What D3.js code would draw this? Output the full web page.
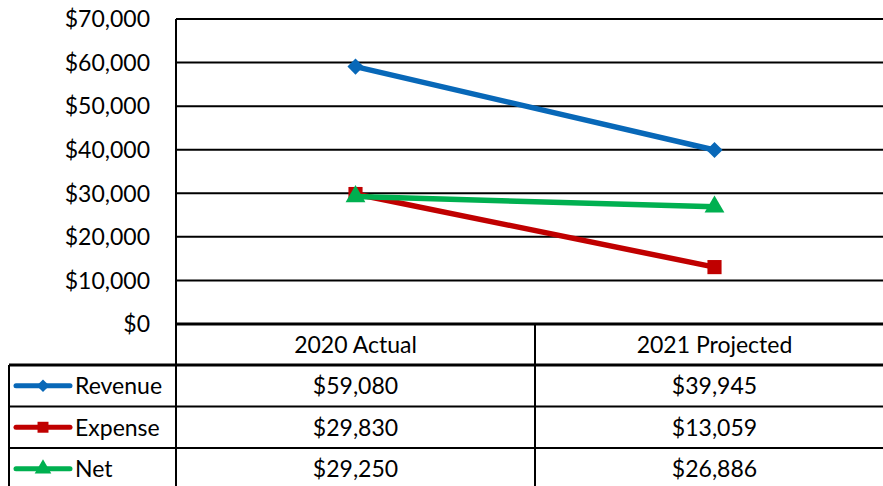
<!DOCTYPE html>
<html>
<head>
<meta charset="utf-8">
<script src="https://cdn.jsdelivr.net/npm/d3@7"></script>
<style>
  html, body { margin: 0; padding: 0; background: #fff; }
  svg { display: block; }
  text { font-family: Lato, "Open Sans", sans-serif; fill: #000; }
</style>
</head>
<body>
<div id="chart"></div>
<script>
// ---------- Data ----------
const categories = ["2020 Actual", "2021 Projected"];
const seriesNames = ["Revenue", "Expense", "Net"];
const revenue = [59080, 39945];
const expense = [29830, 13059];
const net = [29250, 26886];
const yTicks = [0, 10000, 20000, 30000, 40000, 50000, 60000, 70000];

const seriesValues = [revenue, expense, net];
const seriesColors = ["#0868B8", "#C00000", "#00B050"];
const seriesSymbols = [d3.symbolSquare, d3.symbolSquare, d3.symbolTriangle];
const seriesRotate = [45, 0, 0];

const width = 883, height = 486;
const plotLeft = 176, plotTop = 19, plotBottom = 324, plotRight = 894;
const tableLeft = 9, rowTop = 365, rowH = 41.5;
const fontSize = 23;

const svg = d3.select("#chart").append("svg")
  .attr("width", width)
  .attr("height", height);

const x = d3.scaleBand().domain(categories).range([plotLeft, plotRight]);
const y = d3.scaleLinear().domain([0, 70000]).range([plotBottom, plotTop]);
const rowY = d3.scaleBand().domain(seriesNames).range([rowTop, rowTop + rowH * seriesNames.length]);

const fmt = d3.format("$,");

// ---------- Gridlines + Y labels ----------
svg.append("g")
  .selectAll("line")
  .data(yTicks.filter(d => d > 0))
  .join("line")
  .attr("x1", plotLeft).attr("x2", width)
  .attr("y1", d => y(d)).attr("y2", d => y(d))
  .attr("stroke", "#000")
  .attr("stroke-width", 2);

svg.append("g")
  .selectAll("text")
  .data(yTicks)
  .join("text")
  .attr("x", 150)
  .attr("y", d => y(d))
  .attr("dy", "0.36em")
  .attr("text-anchor", "end")
  .attr("font-size", fontSize)
  .text(d => fmt(d));

// ---------- Table borders ----------
const borders = svg.append("g").attr("stroke", "#000");
// axis line
borders.append("line")
  .attr("x1", plotLeft).attr("x2", width)
  .attr("y1", y(0)).attr("y2", y(0))
  .attr("stroke-width", 3);
// plot left edge running down through table
borders.append("line")
  .attr("x1", plotLeft).attr("x2", plotLeft)
  .attr("y1", plotTop).attr("y2", height)
  .attr("stroke-width", 2);
// category divider
borders.append("line")
  .attr("x1", x(categories[1])).attr("x2", x(categories[1]))
  .attr("y1", y(0)).attr("y2", height)
  .attr("stroke-width", 2);
// table left edge
borders.append("line")
  .attr("x1", tableLeft).attr("x2", tableLeft)
  .attr("y1", rowTop).attr("y2", height)
  .attr("stroke-width", 2);
// row lines
borders.selectAll("line.row")
  .data(seriesNames)
  .join("line")
  .attr("class", "row")
  .attr("x1", tableLeft).attr("x2", width)
  .attr("y1", d => rowY(d)).attr("y2", d => rowY(d))
  .attr("stroke-width", (d, i) => i === 0 ? 3 : 2);

// ---------- Category header ----------
svg.append("g")
  .selectAll("text")
  .data(categories)
  .join("text")
  .attr("x", d => x(d) + x.bandwidth() / 2)
  .attr("y", (y(0) + rowTop) / 2)
  .attr("dy", "0.36em")
  .attr("text-anchor", "middle")
  .attr("font-size", fontSize)
  .text(d => d);

// ---------- Table rows ----------
const rows = svg.append("g")
  .selectAll("g")
  .data(seriesNames)
  .join("g")
  .attr("transform", d => `translate(0,${rowY(d) + rowY.bandwidth() / 2})`);

rows.append("line")
  .attr("x1", 16).attr("x2", 70)
  .attr("stroke", (d, i) => seriesColors[i])
  .attr("stroke-width", 5)
  .attr("stroke-linecap", "round");

rows.append("path")
  .attr("transform", (d, i) => `translate(43,0) rotate(${seriesRotate[i]})`)
  .attr("d", (d, i) => d3.symbol(seriesSymbols[i], i === 0 ? 80 : 120)())
  .attr("fill", (d, i) => seriesColors[i]);

rows.append("text")
  .attr("x", 75)
  .attr("dy", "0.36em")
  .attr("font-size", fontSize)
  .text(d => d);

rows.selectAll("text.val")
  .data((d, i) => seriesValues[i])
  .join("text")
  .attr("class", "val")
  .attr("x", (d, j) => x(categories[j]) + x.bandwidth() / 2)
  .attr("dy", "0.36em")
  .attr("text-anchor", "middle")
  .attr("font-size", fontSize)
  .text(d => fmt(d));

// ---------- Lines ----------
const line = d3.line()
  .x((d, j) => x(categories[j]) + x.bandwidth() / 2)
  .y(d => y(d));

const series = svg.append("g")
  .selectAll("g")
  .data(seriesNames)
  .join("g");

series.append("path")
  .attr("d", (d, i) => line(seriesValues[i]))
  .attr("fill", "none")
  .attr("stroke", (d, i) => seriesColors[i])
  .attr("stroke-width", 5.5)
  .attr("stroke-linecap", "round");

series.each(function (name, i) {
  d3.select(this).selectAll("path.mark")
    .data(seriesValues[i])
    .join("path")
    .attr("class", "mark")
    .attr("transform", (v, j) => `translate(${x(categories[j]) + x.bandwidth() / 2},${y(v)}) rotate(${seriesRotate[i]})`)
    .attr("d", d3.symbol(seriesSymbols[i], i === 0 ? 130 : i === 1 ? 200 : 170)())
    .attr("fill", seriesColors[i]);
});
</script>
</body>
</html>
